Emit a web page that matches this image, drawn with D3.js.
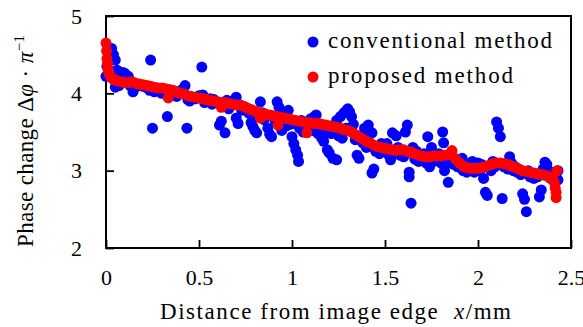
<!DOCTYPE html>
<html><head><meta charset="utf-8">
<script src="https://cdn.jsdelivr.net/npm/d3@7"></script>
</head><body style="margin:0">
<svg id="chart" width="583" height="327"></svg>
<script>
const xTicks = [0, 0.5, 1, 1.5, 2, 2.5];
const yTicks = [2, 3, 4, 5];
const seriesNames = ["conventional method", "proposed method"];
const serif = "'Liberation Serif', monospace";

// [distance mm, phase change / pi]
const conventional = [
  [0,4.22],[0.005,4.35],[0.01,4.45],[0.02,4.55],[0.03,4.58],[0.04,4.5],[0.05,4.43],[0.06,4.3],
  [0.05,4.08],[0.07,4.1],[0.09,4.27],[0.1,4.26],[0.11,4.2],[0.12,4.22],[0.13,4.1],[0.145,4.02],
  [0.16,4.08],[0.18,4.1],[0.2,4.09],[0.22,4.07],[0.235,4.04],[0.24,4.43],[0.25,3.55],[0.27,4.06],
  [0.29,4.04],[0.31,4.06],[0.33,3.7],[0.35,4.02],[0.37,4.0],[0.39,4.02],[0.41,4.05],[0.425,4.1],
  [0.435,3.55],[0.44,3.92],[0.46,3.95],[0.48,3.93],[0.5,3.97],[0.515,4.34],[0.52,3.98],[0.54,3.9],
  [0.56,3.93],[0.58,3.92],[0.6,3.88],[0.61,3.59],[0.62,3.64],[0.64,3.49],[0.65,3.91],[0.67,3.88],
  [0.68,3.9],[0.7,3.95],[0.7,3.68],[0.71,3.61],[0.72,3.85],[0.74,3.83],[0.76,3.8],[0.78,3.62],
  [0.79,3.57],[0.8,3.52],[0.81,3.49],[0.83,3.89],[0.84,3.75],[0.86,3.72],[0.87,3.55],[0.88,3.47],
  [0.89,3.44],[0.9,3.7],[0.92,3.89],[0.93,3.82],[0.94,3.6],[0.945,3.52],[0.96,3.74],[0.98,3.78],
  [0.99,3.6],[1.0,3.44],[1.01,3.35],[1.02,3.27],[1.03,3.2],[1.035,3.12],[1.05,3.65],[1.07,3.6],
  [1.09,3.55],[1.1,3.67],[1.12,3.7],[1.13,3.72],[1.14,3.48],[1.16,3.42],[1.17,3.38],[1.19,3.27],
  [1.2,3.23],[1.22,3.16],[1.24,3.14],[1.24,3.65],[1.26,3.7],[1.28,3.75],[1.295,3.78],[1.3,3.8],
  [1.31,3.76],[1.32,3.7],[1.33,3.6],[1.35,3.2],[1.36,3.16],[1.37,3.45],[1.39,3.55],[1.41,3.59],
  [1.42,3.5],[1.43,3.49],[1.43,2.97],[1.44,3.02],[1.46,3.3],[1.48,3.35],[1.5,3.3],[1.52,3.2],
  [1.53,3.14],[1.54,3.49],[1.56,3.45],[1.57,3.3],[1.59,3.25],[1.61,3.5],[1.62,3.59],[1.63,2.98],
  [1.63,2.92],[1.64,2.58],[1.65,3.3],[1.67,3.25],[1.69,3.2],[1.7,3.15],[1.72,3.1],[1.73,3.44],
  [1.74,3.05],[1.75,3.3],[1.77,3.2],[1.79,3.22],[1.81,3.5],[1.815,3.36],[1.82,3.0],[1.83,3.15],
  [1.84,2.85],[1.86,3.2],[1.88,3.15],[1.9,3.1],[1.915,3.16],[1.93,3.05],[1.95,3.08],[1.97,3.12],
  [1.99,3.05],[2.0,3.1],[2.03,2.9],[2.04,2.72],[2.05,2.68],[2.06,3.05],[2.08,3.12],[2.1,3.63],
  [2.11,3.55],[2.12,3.44],[2.13,2.64],[2.14,3.05],[2.15,3.08],[2.17,3.18],[2.18,3.1],[2.2,3.05],
  [2.22,3.02],[2.24,2.7],[2.25,2.63],[2.26,2.47],[2.27,3.0],[2.29,2.95],[2.31,2.95],[2.33,2.66],
  [2.34,2.75],[2.35,3.02],[2.36,3.11],[2.37,3.08],[2.38,3.0],[2.4,2.95],[2.41,2.9],[2.43,2.88],
  [2.43,3.0],
  // dense part of the band around the red curve
  [0.26,4.02],[0.3,4.0],[0.34,3.98],[0.38,3.96],[0.45,3.9],[0.53,3.88],[0.57,3.86],[0.63,3.83],
  [0.66,3.8],[0.73,3.78],[0.77,3.74],[0.82,3.7],[0.85,3.66],[0.91,3.64],[0.95,3.62],[0.97,3.58],
  [1.04,3.55],[1.06,3.5],[1.11,3.52],[1.15,3.55],[1.18,3.5],[1.21,3.48],[1.25,3.45],[1.27,3.42],
  [1.29,3.55],[1.34,3.4],[1.38,3.36],[1.4,3.3],[1.45,3.25],[1.47,3.22],[1.51,3.35],[1.55,3.22],
  [1.58,3.2],[1.6,3.18],[1.66,3.15],[1.68,3.12],[1.71,3.22],[1.76,3.12],[1.78,3.14],[1.8,3.1],
  [1.85,3.1],[1.87,3.08],[1.89,3.05],[1.92,3.0],[1.94,2.98],[1.96,3.02],[1.98,2.98],[2.01,3.0],
  [2.02,3.08],[2.07,3.0],[2.09,3.05],[2.16,3.02],[2.19,3.0],[2.21,2.98],[2.23,2.95],[2.28,2.92],
  [2.3,2.9],[2.32,2.92],[2.39,2.9],[2.42,2.95]
];

const proposed = [
  [0,4.65],[0.003,4.55],[0.005,4.45],[0.008,4.38],[0.01,4.32],[0.015,4.27],[0.02,4.23],[0.03,4.2],
  [0.04,4.18],[0.05,4.17],[0.06,4.16],[0.08,4.15],[0.1,4.14],[0.12,4.14],[0.14,4.15],[0.16,4.13],
  [0.18,4.12],[0.2,4.11],[0.22,4.1],[0.24,4.09],[0.26,4.08],[0.28,4.07],[0.3,4.07],[0.32,4.06],
  [0.335,3.94],[0.34,4.05],[0.36,4.04],[0.38,4.02],[0.4,4.0],[0.42,3.99],[0.44,3.97],[0.46,3.96],
  [0.48,3.95],[0.5,3.94],[0.52,3.93],[0.54,3.92],[0.56,3.91],[0.58,3.9],[0.6,3.89],[0.62,3.82],
  [0.62,3.88],[0.64,3.88],[0.66,3.87],[0.68,3.86],[0.7,3.85],[0.72,3.85],[0.74,3.83],[0.76,3.81],
  [0.78,3.79],[0.8,3.77],[0.82,3.75],[0.83,3.68],[0.84,3.74],[0.86,3.73],[0.88,3.72],[0.9,3.71],
  [0.925,3.59],[0.92,3.7],[0.94,3.69],[0.96,3.68],[0.98,3.67],[1.0,3.66],[1.02,3.65],[1.04,3.64],
  [1.06,3.63],[1.08,3.49],[1.08,3.62],[1.1,3.62],[1.12,3.61],[1.14,3.61],[1.16,3.6],[1.18,3.59],
  [1.2,3.58],[1.22,3.57],[1.24,3.56],[1.26,3.55],[1.28,3.53],[1.3,3.52],[1.32,3.5],[1.34,3.47],
  [1.36,3.44],[1.38,3.41],[1.4,3.38],[1.42,3.36],[1.44,3.33],[1.46,3.31],[1.48,3.3],[1.5,3.29],
  [1.52,3.28],[1.54,3.27],[1.56,3.26],[1.58,3.27],[1.6,3.27],[1.62,3.25],[1.64,3.24],[1.66,3.22],
  [1.68,3.2],[1.7,3.19],[1.72,3.18],[1.74,3.18],[1.76,3.19],[1.78,3.19],[1.8,3.19],[1.82,3.2],
  [1.84,3.21],[1.86,3.26],[1.86,3.2],[1.88,3.15],[1.9,3.1],[1.92,3.06],[1.94,3.04],[1.96,3.03],
  [1.98,3.03],[2.0,3.03],[2.02,3.04],[2.04,3.05],[2.06,3.07],[2.08,3.09],[2.1,3.1],[2.12,3.1],
  [2.14,3.09],[2.16,3.08],[2.18,3.06],[2.2,3.04],[2.22,3.02],[2.24,3.0],[2.26,2.99],[2.28,2.98],
  [2.3,2.97],[2.32,2.96],[2.34,2.95],[2.36,2.94],[2.38,2.92],[2.4,2.9],[2.41,2.85],[2.415,2.78],
  [2.42,2.72],[2.42,2.65],[2.425,3.0]
];

const margin = {top: 16, right: 12, bottom: 79, left: 106};
const width = 583 - margin.left - margin.right;
const height = 327 - margin.top - margin.bottom;

const svg = d3.select("#chart");
const chart = svg.append("g").attr("transform", "translate(" + margin.left + "," + margin.top + ")");

const x = d3.scaleLinear().domain([0, 2.5]).range([0, width]);
const y = d3.scaleLinear().domain([2, 5]).range([height, 0]);

// axes, ticks pointing inwards
chart.append("g")
  .attr("transform", "translate(0," + height + ")")
  .call(d3.axisBottom(x).tickValues(xTicks).tickSize(-8).tickSizeOuter(0).tickPadding(21).tickFormat(d3.format("~g")))
  .call(a => a.select(".domain").remove());

chart.append("g")
  .call(d3.axisLeft(y).tickValues(yTicks).tickSize(-8).tickSizeOuter(0).tickPadding(24).tickFormat(d3.format("~g")))
  .call(a => a.select(".domain").remove());

chart.selectAll(".tick line").attr("stroke", "#000").attr("stroke-width", 1.8);
chart.selectAll(".tick text").attr("fill", "#000").attr("font-size", 22)
  .style("font-family", serif);

chart.append("rect")
  .attr("width", width).attr("height", height)
  .attr("fill", "none").attr("stroke", "#000").attr("stroke-width", 2);

// points
chart.append("g").selectAll("circle")
  .data(conventional).join("circle")
  .attr("cx", d => x(d[0])).attr("cy", d => y(d[1])).attr("r", 5.5)
  .attr("fill", "#0000ff");

chart.append("g").selectAll("circle")
  .data(proposed).join("circle")
  .attr("cx", d => x(d[0])).attr("cy", d => y(d[1])).attr("r", 5.5)
  .attr("fill", "#ff0000");

// legend
const legend = chart.append("g").attr("transform", "translate(207,26)");
const legendWidths = [224, 185];
["#0000ff", "#ff0000"].forEach((c, i) => {
  legend.append("circle").attr("cx", 0).attr("cy", i * 35).attr("r", 5.5).attr("fill", c);
  legend.append("text")
    .attr("x", 15).attr("y", i * 35 + 6).attr("font-size", 23)
    .attr("textLength", legendWidths[i]).attr("lengthAdjust", "spacing")
    .style("font-family", serif)
    .text(seriesNames[i]);
});

// axis titles
const xTitle = svg.append("text")
  .attr("x", 160).attr("y", 319).attr("font-size", 23)
  .attr("textLength", 351).attr("lengthAdjust", "spacing")
  .style("font-family", serif);
xTitle.append("tspan").text("Distance from image edge\u00a0\u00a0");
xTitle.append("tspan").attr("font-style", "italic").text("x");
xTitle.append("tspan").text("/mm");

const yTitle = svg.append("text")
  .attr("transform", "translate(33,141) rotate(-90)")
  .attr("text-anchor", "middle").attr("font-size", 23)
  .attr("textLength", 212).attr("lengthAdjust", "spacing")
  .style("font-family", serif);
yTitle.append("tspan").text("Phase change Δ");
yTitle.append("tspan").attr("font-style", "italic").text("φ");
yTitle.append("tspan").text(" · ");
yTitle.append("tspan").attr("font-style", "italic").text("π");
yTitle.append("tspan").attr("font-size", 15).attr("dy", -9).text("−1");
</script>
</body>
</html>
